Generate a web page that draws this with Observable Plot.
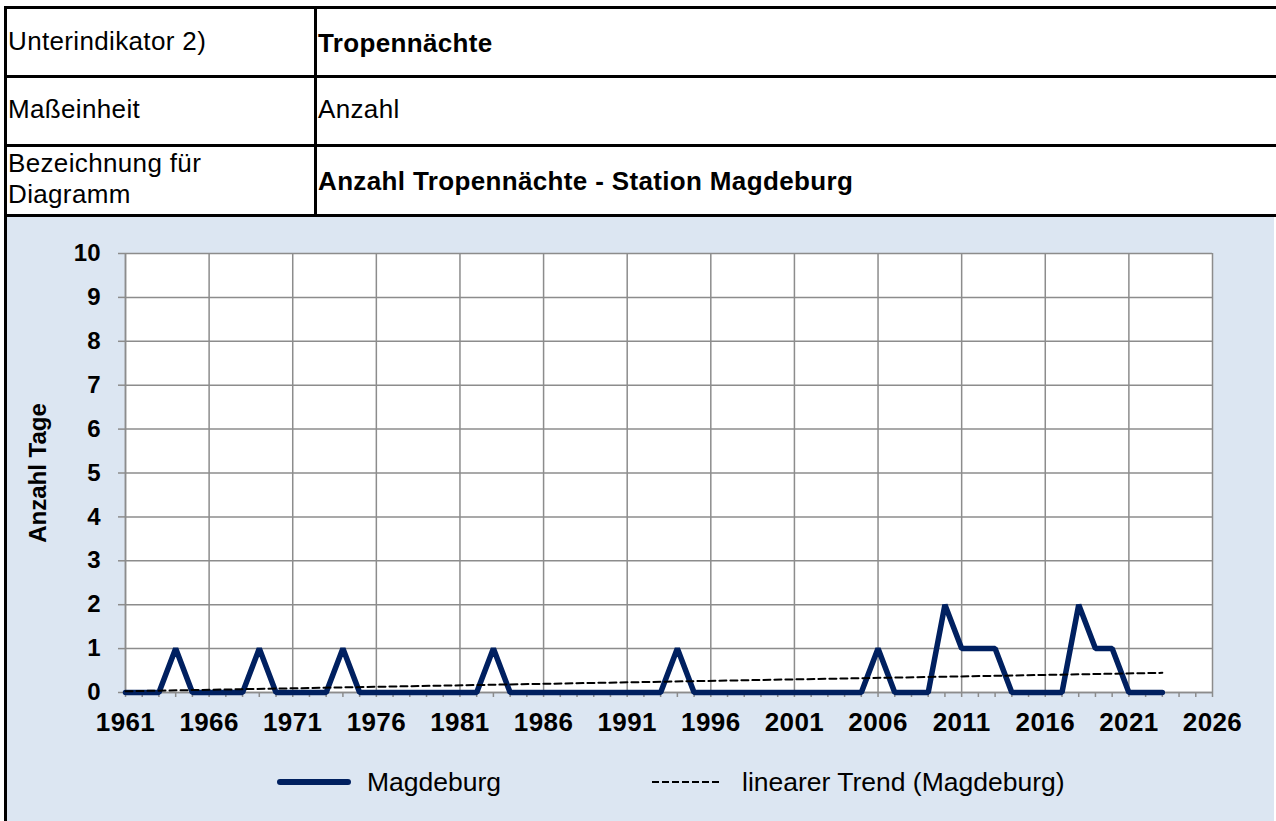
<!DOCTYPE html>
<html>
<head>
<meta charset="utf-8">
<script src="https://cdn.jsdelivr.net/npm/d3@7"></script>
<script src="https://cdn.jsdelivr.net/npm/@observablehq/plot@0.6"></script>
<style>
  html, body { margin: 0; padding: 0; }
  body { width: 1276px; height: 821px; overflow: hidden; position: relative; background: #fff;
         font-family: Arial, "Liberation Sans", sans-serif; color: #000; }
  .hl { position: absolute; height: 3px; background: #000; left: 4px; width: 1272px; }
  .vl { position: absolute; width: 3px; background: #000; }
  .cell { position: absolute; font-size: 26px; line-height: 31px; white-space: nowrap; letter-spacing: 0.35px; }
  .b { font-weight: bold; }
  #bg { position: absolute; left: 7px; top: 217px; width: 1267px; height: 604px; background: #DCE6F2; }
  #chart { position: absolute; left: 0; top: 217px; }
  #legend { position: absolute; top: 762px; left: 0; width: 1276px; height: 40px; font-size: 26.5px; }
  #legend .item { position: absolute; top: 0; height: 40px; display: flex; align-items: center; }
  [aria-label="y-axis label"] { font-size: 24px; font-weight: bold; }
  [aria-label="x-axis tick label"] text { letter-spacing: 0.4px; }
</style>
</head>
<body>
<div id="bg"></div>
<div class="hl" style="top:6px"></div>
<div class="hl" style="top:75px"></div>
<div class="hl" style="top:144px"></div>
<div class="hl" style="top:214px"></div>
<div class="vl" style="left:4px; top:6px; height:815px"></div>
<div class="vl" style="left:314px; top:6px; height:211px"></div>

<div class="cell" style="left:8px; top:26px">Unterindikator 2)</div>
<div class="cell b" style="left:318px; top:28px">Tropennächte</div>
<div class="cell" style="left:8px; top:94px">Maßeinheit</div>
<div class="cell" style="left:318px; top:94px">Anzahl</div>
<div class="cell" style="left:8px; top:148px">Bezeichnung für<br>Diagramm</div>
<div class="cell b" style="left:318px; top:166px">Anzahl Tropennächte - Station Magdeburg</div>

<div id="chart"></div>
<div id="legend"></div>

<script>
// ---- data ----
const years = d3.range(1961, 2024);
const tropennaechte = [
  0, 0, 0, 1, 0, 0, 0, 0, 1, 0,   // 1961-1970
  0, 0, 0, 1, 0, 0, 0, 0, 0, 0,   // 1971-1980
  0, 0, 1, 0, 0, 0, 0, 0, 0, 0,   // 1981-1990
  0, 0, 0, 1, 0, 0, 0, 0, 0, 0,   // 1991-2000
  0, 0, 0, 0, 0, 1, 0, 0, 0, 2,   // 2001-2010
  1, 1, 1, 0, 0, 0, 0, 2, 1, 1,   // 2011-2020
  0, 0, 0                         // 2021-2023
];
const xTickLabels = [1961, 1966, 1971, 1976, 1981, 1986, 1991, 1996, 2001, 2006, 2011, 2016, 2021, 2026];
const xMinorTicks = d3.range(1961, 2027);
const yTickLabels = [0, 1, 2, 3, 4, 5, 6, 7, 8, 9, 10];
const seriesNames = ["Magdeburg", "linearer Trend (Magdeburg)"];
const yLabel = "Anzahl Tage";

const data = years.map((year, i) => ({ year, value: tropennaechte[i] }));

const gray = "#8c8c8c";
const navy = "#002060";

const chart = Plot.plot({
  width: 1276,
  height: 604,
  marginLeft: 125,
  marginRight: 64,
  marginTop: 36,
  marginBottom: 129,
  style: { background: "transparent", fontFamily: "Arial, 'Liberation Sans', sans-serif", overflow: "visible", color: "#000" },
  x: { domain: [1961, 2026] },
  y: { domain: [0, 10] },
  marks: [
    Plot.frame({ fill: "white", stroke: null }),
    Plot.gridX(xTickLabels, { stroke: gray, strokeOpacity: 1, strokeWidth: 1.5 }),
    Plot.gridY(yTickLabels, { stroke: gray, strokeOpacity: 1, strokeWidth: 1.5 }),
    Plot.axisX(xMinorTicks, { tickSize: 5, tickFormat: () => "", stroke: gray, strokeWidth: 1.5, label: null }),
    Plot.axisX(xTickLabels, { tickSize: 0, tickPadding: 20, tickFormat: d => String(d), fontSize: 26, fontWeight: "bold", fill: "#000", label: null }),
    Plot.axisY(yTickLabels, { tickSize: 7, tickPadding: 18, stroke: gray, strokeWidth: 1.5, fontSize: 24, fontWeight: "bold", fill: "#000",
      tickFormat: d => String(d), label: yLabel, labelAnchor: "center", labelOffset: 97, labelArrow: "none" }),
    Plot.ruleY([0], { stroke: gray, strokeWidth: 1.5 }),
    Plot.ruleX([1961], { stroke: gray, strokeWidth: 1.5 }),
    Plot.line(data, { x: "year", y: "value", stroke: navy, strokeWidth: 5.5, strokeLinejoin: "miter", strokeLinecap: "round" }),
    Plot.linearRegressionY(data, { x: "year", y: "value", ci: 0, stroke: "#000", strokeWidth: 2, strokeDasharray: "7,4" })
  ]
});
document.getElementById("chart").appendChild(chart);

// ---- legend ----
const legend = document.getElementById("legend");
legend.innerHTML = `
  <div class="item" style="left:277px">
    <svg width="74" height="10"><line x1="3" y1="5" x2="71" y2="5" stroke="${navy}" stroke-width="6" stroke-linecap="round"/></svg>
    <span style="margin-left:16px">${seriesNames[0]}</span>
  </div>
  <div class="item" style="left:652px">
    <svg width="72" height="10"><line x1="0" y1="5" x2="70" y2="5" stroke="#000" stroke-width="2" stroke-dasharray="7,3"/></svg>
    <span style="margin-left:18px">${seriesNames[1]}</span>
  </div>`;
</script>
</body>
</html>
